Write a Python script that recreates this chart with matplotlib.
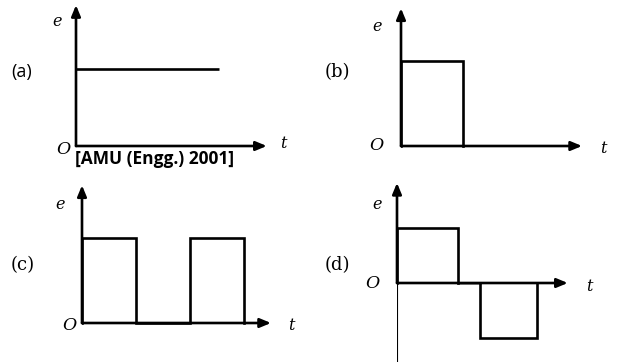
import matplotlib
matplotlib.use("Agg")
import matplotlib.pyplot as plt

W, H = 623, 362
DPI = 100

# ---- data (abstract units: t along x, e along y) ----
# panel (a): constant emf
t_a = [0, 3]
e_a = [1, 1]
# panel (b): single pulse
t_b = [0, 0, 1, 1]
e_b = [0, 1, 1, 0]
# panel (c): two pulses
t_c = [0, 0, 2, 2, 4, 4, 6, 6]
e_c = [0, 1, 1, 0, 0, 1, 1, 0]
# panel (d): positive then negative pulse
t_d_pos = [0, 0, 1, 1]
e_d_pos = [0, 1, 1, 0]
t_d_gap = [1, 1.36]
e_d_gap = [0, 0]
t_d_neg = [1.36, 1.36, 2.3, 2.3]
e_d_neg = [0, -1, -1, 0]

panel_labels = ["(a)", "(b)", "(c)", "(d)"]
source_note = "[AMU (Engg.) 2001]"

fig = plt.figure(figsize=(W / DPI, H / DPI), dpi=DPI)
fig.patch.set_facecolor("white")

LW = 1.9
SERIF = ["DejaVu Serif"]


def panel(origin, ux, uy, xlim, ylim):
    """origin in pixel coords (x from left, y from top); ux/uy px per unit."""
    ox, oy = origin
    left = ox + xlim[0] * ux
    right = ox + xlim[1] * ux
    top = oy - ylim[1] * uy
    bottom = oy - ylim[0] * uy
    ax = fig.add_axes([left / W, 1 - bottom / H, (right - left) / W, (bottom - top) / H])
    ax.set_xlim(*xlim)
    ax.set_ylim(*ylim)
    ax.axis("off")
    return ax


def arrow(ax, x0, y0, x1, y1, lw=LW):
    ax.annotate("", xy=(x1, y1), xytext=(x0, y0),
                arrowprops=dict(arrowstyle="-|>,head_length=0.65,head_width=0.27",
                                lw=lw, color="black", shrinkA=0, shrinkB=0),
                annotation_clip=False)


def label(ax, x, y, s, style="italic", size=11.5, family=SERIF, **kw):
    ax.text(x, y, s, fontsize=size, fontstyle=style, family=family,
            ha="center", va="center", transform=ax.transData, **kw)

# ---- (a) ----
ax = panel((76, 146), 47.7, 77, (0, 4.5), (-0.3, 1.9))
arrow(ax, 0, 0, 0, 1.83)
arrow(ax, 0, 0, 4.0, 0)
ax.plot(t_a, e_a, color="black", lw=LW, solid_capstyle="butt")
label(ax, -0.4, 1.62, "e")
label(ax, -0.27, -0.04, "O", size=12.5)
label(ax, 4.35, 0.03, "t")
ax.text(-1.15, 0.96, panel_labels[0], fontsize=13, family=["Open Sans"], ha="center", va="center")
ax.text(-0.03, -0.17, source_note, fontsize=12.5, fontweight="bold",
        family=["Open Sans"], ha="left", va="center")

# ---- (b) ----
ax = panel((401, 146), 62, 85, (0, 3.3), (-0.2, 1.7))
arrow(ax, 0, 0, 0, 1.62)
arrow(ax, 0, 0, 2.92, 0)
ax.plot(t_b, e_b, color="black", lw=LW, solid_joinstyle="miter")
label(ax, -0.39, 1.41, "e")
label(ax, -0.4, 0.0, "O", size=12.5)
label(ax, 3.26, -0.03, "t")
ax.text(-1.02, 0.87, panel_labels[1], fontsize=13, family=SERIF, ha="center", va="center")

# ---- (c) ----
ax = panel((82, 323), 27, 85, (0, 7.8), (-0.2, 1.7))
arrow(ax, 0, 0, 0, 1.62)
arrow(ax, 0, 0, 7.0, 0)
ax.plot(t_c, e_c, color="black", lw=LW, solid_joinstyle="miter")
label(ax, -0.8, 1.4, "e")
label(ax, -0.45, -0.03, "O", size=12.5)
label(ax, 7.75, -0.03, "t")
ax.text(-2.2, 0.68, panel_labels[2], fontsize=13, family=SERIF, ha="center", va="center")

# ---- (d) ----
ax = panel((397, 283), 61, 55, (0, 3.2), (-1.45, 1.85))
ax.plot([0, 0], [0, -1.44], color="black", lw=0.8)
arrow(ax, 0, 0, 0, 1.82)
arrow(ax, 0, 0, 2.8, 0)
ax.plot(t_d_gap, e_d_gap, color="#8c8c8c", lw=LW)
ax.plot(t_d_pos, e_d_pos, color="black", lw=LW, solid_joinstyle="miter")
ax.plot(t_d_neg, e_d_neg, color="black", lw=LW, solid_joinstyle="miter")
label(ax, -0.33, 1.42, "e")
label(ax, -0.41, 0.0, "O", size=12.5)
label(ax, 3.15, -0.07, "t")
ax.text(-0.97, 0.33, panel_labels[3], fontsize=13, family=SERIF, ha="center", va="center")

fig.savefig("out.png", dpi=DPI, facecolor="white")
